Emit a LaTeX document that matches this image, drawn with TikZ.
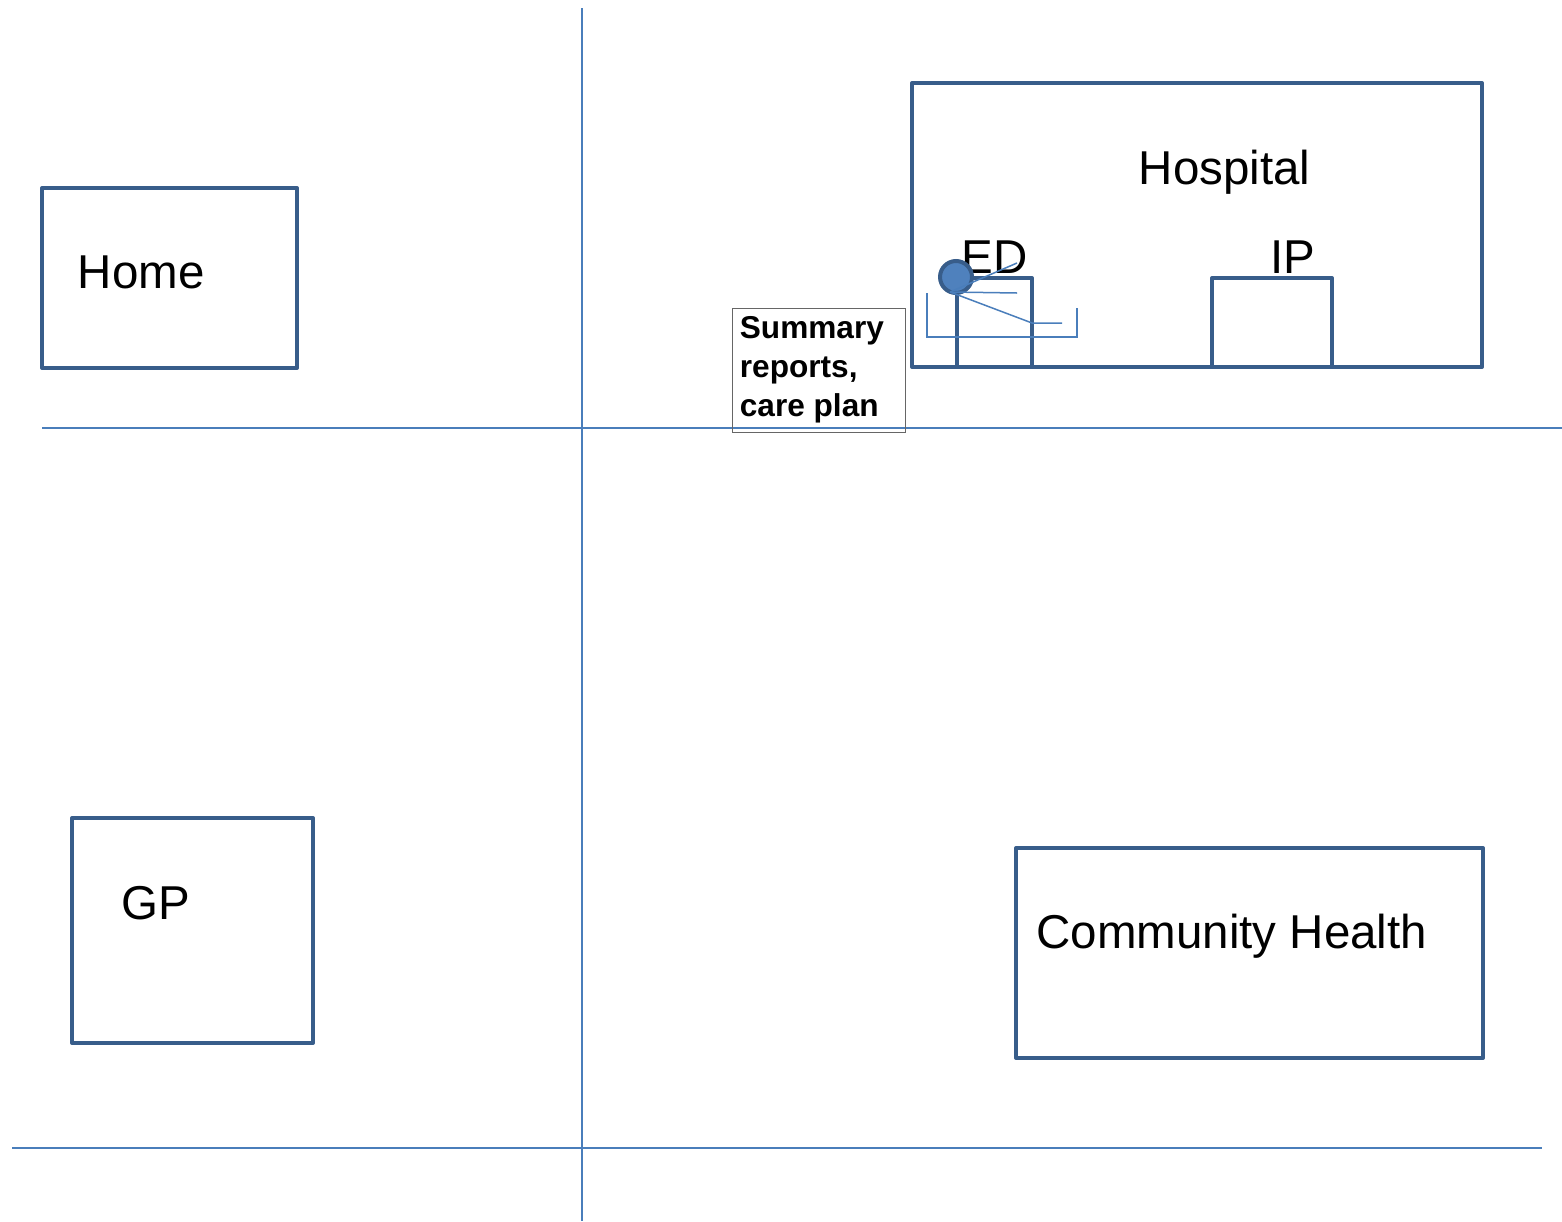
\documentclass[tikz,border=0pt]{standalone}
\usepackage{fontspec}
\setmainfont{Liberation Sans}
\definecolor{boxblue}{RGB}{56,93,138}
\definecolor{lineblue}{RGB}{74,126,187}
\definecolor{dotblue}{RGB}{79,129,189}
\begin{document}
\begin{tikzpicture}[x=0.5pt,y=-0.5pt,
        place/.style={draw=boxblue,line width=2pt,line join=round},
        grid/.style={draw=lineblue,line width=0.6pt},
        thin/.style={draw=lineblue,line width=0.75pt},
        big/.style={inner sep=0pt,anchor=base west,font=\fontsize{23.75}{28}\selectfont},
        note/.style={inner sep=0pt,anchor=base west,align=left,
            font=\fontsize{15.8}{19.5}\selectfont\bfseries}]
                \useasboundingbox (0,0) rectangle (1562,1221);

                % quadrant lines
                \draw[grid] (582,8) -- (582,1221);
                \draw[grid] (42,428) -- (1562,428);
                \draw[grid] (12,1148) -- (1542,1148);

                % places
                \draw[place] (42,188) rectangle (297,368);
                \draw[place] (72,818) rectangle (313,1043);
                \draw[place] (1016,848) rectangle (1483,1058);
                \draw[place] (912,83) rectangle (1482,367);
                \draw[place] (957,278) rectangle (1032,367);
                \draw[place] (1212,278) rectangle (1332,367);

                \node[big] (home) at (77.5,288) {Home};
                \node[big] (gp) at (121.5,919) {GP};
                \node[big] (community) at (1036,948) {Community Health};
                \node[big] (hospital) at (1138.5,184) {Hospital};
                \node[big] (ed) at (961.5,273) {ED};
                \node[big] (ip) at (1270,273) {IP};

                % patient on the bed in ED
                \draw[thin] (927,293) -- (927,337) -- (1077,337) -- (1077,308);
                \draw[fill=dotblue,draw=boxblue,line width=2pt] (956,277) circle (16);
                \draw[thin] (950,292) -- (1017,263);
                \draw[thin] (950,292) -- (1017,293);
                \draw[thin] (950,292) -- (1032,323) -- (1062,323);

                % note box
                \draw[draw=black!60,line width=0.5pt] (732,308) rectangle (905,432);
                \node[note] (summary) at (739.5,416.5) {Summary\\reports,\\care plan};

            \end{tikzpicture}
\end{document}
